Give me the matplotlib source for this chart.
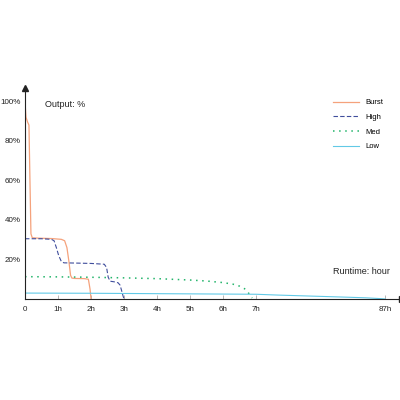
import numpy as np
import matplotlib
matplotlib.use("Agg")
from matplotlib import pyplot as plt

plt.rcParams['font.family'] = ['Liberation Sans', 'DejaVu Sans']

# Runtime curves (hours, % output)
burst_t = [0, 0.03, 0.08, 0.12, 0.15, 0.18, 0.22, 0.4, 0.8, 1.1, 1.2, 1.27, 1.33, 1.38, 1.42, 1.5, 1.8, 1.92, 1.97, 2.0]
burst_y = [100, 92, 89.5, 88, 60, 33, 31, 30.8, 30.6, 30.2, 29.5, 26, 19, 12, 10.6, 10.4, 10.3, 10, 5, 0]

high_t = [0, 0.5, 0.8, 0.88, 0.95, 1.02, 1.1, 1.18, 1.5, 2.0, 2.4, 2.47, 2.52, 2.58, 2.7, 2.82, 2.88, 2.93, 2.97, 3.0]
high_y = [30.5, 30.5, 30.2, 29.5, 26, 22, 19, 18.3, 18.2, 18.0, 17.6, 16, 11, 9, 8.7, 8.2, 7, 4, 1.5, 0]

med_t = [0, 1, 2, 3, 4, 5, 5.5, 6, 6.3, 6.5, 6.65, 6.75, 6.82, 6.88]
med_y = [11.3, 11.2, 11.0, 10.7, 10.3, 9.6, 9.1, 8.3, 7.5, 6.5, 5.2, 3.5, 1.8, 0.5]

low_t = [0, 2, 4, 7, 20, 40, 60, 75, 84, 87]
low_y = [3.0, 2.9, 2.7, 2.4, 2.0, 1.5, 1.0, 0.6, 0.2, 0]

x_ticks = [0, 1, 2, 3, 4, 5, 6, 7, 87]
x_labels = ["0", "1h", "2h", "3h", "4h", "5h", "6h", "7h", "87h"]
y_ticks = [20, 40, 60, 80, 100]
y_labels = ["20%", "40%", "60%", "80%", "100%"]

# axis is linear up to 7h, then squeezed so 87h fits
K = 3.91 / 80.0

def fwd(x):
    x = np.asarray(x, dtype=float)
    return np.where(x <= 7, x, 7 + (x - 7) * K)

def inv(u):
    u = np.asarray(u, dtype=float)
    return np.where(u <= 7, u, 7 + (u - 7) / K)

fig = plt.figure(figsize=(4, 4), dpi=100)
ax = fig.add_axes([0.0625, 0.2525, 0.9425, 0.5275])
ax.set_xscale('function', functions=(fwd, inv))

ax.plot(burst_t, burst_y, color='#f5a27c', lw=0.9, label='Burst')
ax.plot(high_t, high_y, color='#3f4d9c', lw=0.8, ls=(0, (4, 2)), label='High')
ax.plot(med_t, med_y, color='#22b46a', lw=1.1, ls=(0, (1, 3)), label='Med')
ax.plot(low_t, low_y, color='#62c9e6', lw=0.8, label='Low')

ax.set_xlim(0, 97.4)
ax.set_ylim(0, 106.8)

for s in ['top', 'right']:
    ax.spines[s].set_visible(False)
for s in ['left', 'bottom']:
    ax.spines[s].set_linewidth(0.8)
    ax.spines[s].set_color('#222222')

# arrow heads on the axes
ax.plot(1, 0, '>', color='#222222', ms=4, transform=ax.transAxes, clip_on=False)
ax.plot(0, 1, '^', color='#222222', ms=4, transform=ax.transAxes, clip_on=False)

ax.set_xticks(x_ticks)
ax.set_xticklabels(x_labels)
ax.set_yticks(y_ticks)
ax.set_yticklabels(y_labels)
ax.xaxis.set_minor_locator(plt.NullLocator())
ax.tick_params(axis='x', direction='in', length=3, width=0.5, colors='#999999',
               labelcolor='#222222', labelsize=5.8, pad=5)
ax.tick_params(axis='y', length=0, labelsize=5.8, labelcolor='#222222', pad=3)

ax.text(0.053, 0.92, "Output: %", transform=ax.transAxes, fontsize=6.5,
        ha='left', va='center', color='#222222')
ax.text(0.817, 0.128, "Runtime: hour", transform=ax.transAxes, fontsize=6.5,
        ha='left', va='center', color='#222222')

leg = ax.legend(loc='upper left', bbox_to_anchor=(0.80, 0.98), frameon=False,
                fontsize=5.5, handlelength=3.3, labelspacing=0.95, handletextpad=0.9)

fig.savefig("out.png", dpi=100)
